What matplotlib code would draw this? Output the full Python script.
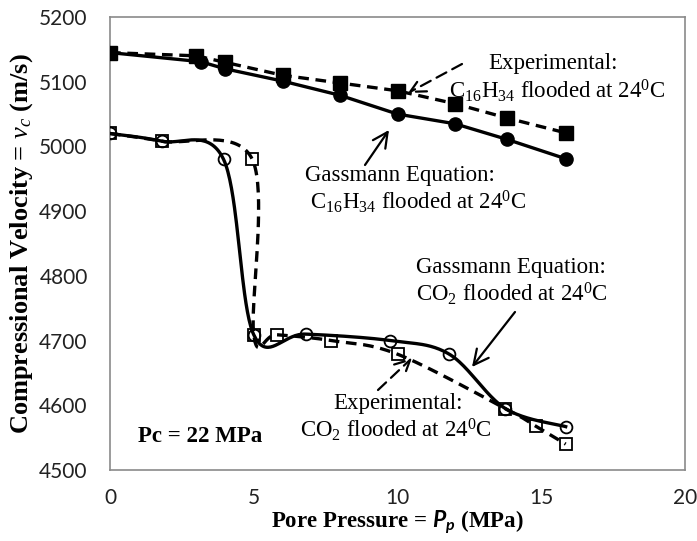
import numpy as np
import matplotlib
matplotlib.use("Agg")
import matplotlib.pyplot as plt
from matplotlib.patches import FancyArrowPatch

plt.rcParams['mathtext.fontset'] = 'custom'
plt.rcParams['mathtext.rm'] = 'Liberation Serif'
plt.rcParams['mathtext.it'] = 'Liberation Serif:italic'
plt.rcParams['mathtext.bf'] = 'Liberation Serif:bold'
plt.rcParams['mathtext.sf'] = 'Lato:bold:italic'

# ---- data ----
exp_c16_p = [0, 3.0, 4.0, 6.0, 8.0, 10.0, 12.0, 13.8, 15.85]
exp_c16_v = [5145, 5140, 5130, 5110, 5098, 5086, 5066, 5044, 5021]

gas_c16_p = [0, 3.15, 4.0, 6.0, 8.0, 10.0, 12.0, 13.8, 15.85]
gas_c16_v = [5145, 5131, 5120, 5101, 5079, 5050, 5035, 5011, 4981]

exp_co2_p = [0, 1.8, 4.95, 5.0, 5.8, 7.7, 10.0, 13.75, 14.8, 15.85]
exp_co2_v = [5020, 5008, 4980, 4709, 4709, 4700, 4679, 4595, 4568, 4540]

gas_co2_p = [0, 1.8, 3.95, 5.0, 6.8, 9.75, 11.8, 13.75, 15.85]
gas_co2_v = [5020, 5008, 4980, 4709, 4710, 4700, 4679, 4595, 4567]

x_ticks = [0, 5, 10, 15, 20]
y_ticks = [4500, 4600, 4700, 4800, 4900, 5000, 5100, 5200]


def smooth(xs, ys, n=40):
    """Catmull-Rom style smoothing (like spreadsheet 'smoothed line')."""
    P = np.column_stack([xs, ys]).astype(float)
    P = np.vstack([P[0], P, P[-1]])
    out = []
    for i in range(1, len(P) - 2):
        p0, p1, p2, p3 = P[i - 1], P[i], P[i + 1], P[i + 2]
        c1 = p1 + (p2 - p0) / 6.0
        c2 = p2 - (p3 - p1) / 6.0
        t = np.linspace(0, 1, n)[:, None]
        seg = ((1 - t) ** 3) * p1 + 3 * ((1 - t) ** 2) * t * c1 + 3 * (1 - t) * t ** 2 * c2 + t ** 3 * p2
        out.append(seg if i == 1 else seg[1:])
    s = np.vstack(out)
    return s[:, 0], s[:, 1]


W, H = 697, 541
fig = plt.figure(figsize=(W / 100, H / 100), dpi=100)
L, R, T, B = 110, 685, 17, 470
ax = fig.add_axes([L / W, 1 - B / H, (R - L) / W, (B - T) / H])

lw = 2.4
dash = (0, (3.2, 2.0))

# C16H34 lines
ax.plot(exp_c16_p, exp_c16_v, color='black', lw=lw, ls=dash, marker='s', ms=9.5,
        mfc='black', mec='black', zorder=3)
ax.plot(gas_c16_p, gas_c16_v, color='black', lw=lw, ls='-', marker='o', ms=9.5,
        mfc='black', mec='black', zorder=3)

# CO2 smoothed lines
sx, sy = smooth(exp_co2_p, exp_co2_v)
ax.plot(sx, sy, color='black', lw=lw, ls=dash, zorder=3)
ax.plot(exp_co2_p, exp_co2_v, ls='none', marker='s', ms=8.5, mfc='none', mec='black',
        mew=1.3, zorder=4)
sx, sy = smooth(gas_co2_p, gas_co2_v)
ax.plot(sx, sy, color='black', lw=lw, ls='-', zorder=3)
ax.plot(gas_co2_p, gas_co2_v, ls='none', marker='o', ms=8.5, mfc='none', mec='black',
        mew=1.3, zorder=4)

ax.set_xlim(0, 20)
ax.set_ylim(4500, 5200)
ax.set_xticks(x_ticks)
ax.set_yticks(y_ticks)
ax.tick_params(length=0, labelsize=15, colors='#222222')
ax.tick_params(axis='x', pad=13)
ax.tick_params(axis='y', pad=16)
for lab in ax.get_xticklabels() + ax.get_yticklabels():
    lab.set_fontfamily('Lato')
for sp in ax.spines.values():
    sp.set_color('#8a8a8a')
    sp.set_linewidth(1.2)

ax.set_xlabel(r'Pore Pressure = $\mathsf{P_p}$ (MPa)', fontfamily='Liberation Serif',
              fontweight='bold', fontsize=16.5, labelpad=0)
ax.set_ylabel(r'Compressional Velocity = $\mathit{v_c}$ (m/s)', fontfamily='Liberation Serif',
              fontweight='bold', fontsize=19, labelpad=3)

tf = dict(fontfamily='Liberation Serif', fontsize=16.5, ha='center', va='center')


def px(x, y):
    return (x / W, 1 - y / H)


fig.text(*px(553, 63), 'Experimental:', **tf)
fig.text(*px(557, 91), r'C$_{16}$H$_{34}$ flooded at 24$^{0}$C', **tf)
fig.text(*px(400, 175), 'Gassmann Equation:', **tf)
fig.text(*px(418, 202), r'C$_{16}$H$_{34}$ flooded at 24$^{0}$C', **tf)
fig.text(*px(511, 267), 'Gassmann Equation:', **tf)
fig.text(*px(512, 294), r'CO$_{2}$ flooded at 24$^{0}$C', **tf)
fig.text(*px(398, 403), 'Experimental:', **tf)
fig.text(*px(396, 430), r'CO$_{2}$ flooded at 24$^{0}$C', **tf)
fig.text(*px(138, 437), 'Pc = 22 MPa', fontfamily='Liberation Serif', fontsize=16.5,
         fontweight='bold', ha='left', va='center')


def arrow(x0, y0, x1, y1, ls):
    fig.add_artist(FancyArrowPatch(
        px(x0, y0), px(x1, y1), transform=fig.transFigure,
        arrowstyle='->,head_length=0.9,head_width=0.45', lw=1.6, ls=ls, color='black',
        mutation_scale=12, shrinkA=0, shrinkB=0))


arrow(462, 64, 408, 93, (0, (5, 3)))
arrow(365, 165, 389, 130, '-')
arrow(515, 312, 472, 367, '-')
arrow(378, 390, 412, 358, (0, (5, 3)))

fig.savefig('out.png', dpi=100)
